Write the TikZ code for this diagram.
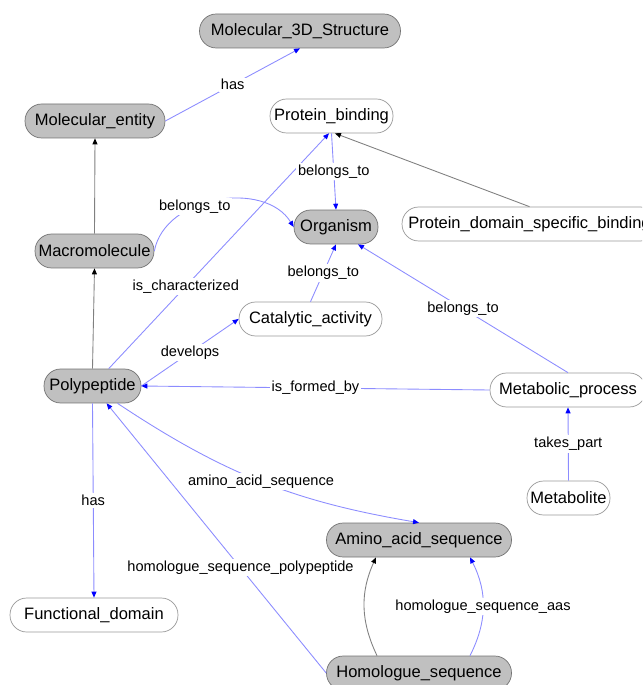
\documentclass[tikz,border=0pt]{standalone}
\usepackage{fontspec}
\setmainfont{Liberation Sans}
\usepackage{tikz}
\usetikzlibrary{positioning,arrows.meta}

\definecolor{nodegray}{RGB}{192,192,192}
\definecolor{edgeblue}{RGB}{140,140,255}

\tikzset{
	concept/.style={draw=black!55, fill=nodegray, rounded corners=9.5pt, minimum height=0.68cm, inner sep=0pt, font=\fontsize{9.4}{11}\selectfont},
	plain/.style={concept, draw=black!40, fill=white},
	lbl/.style={fill=white, inner sep=1pt, font=\fontsize{8.3}{10}\selectfont},
	bluetip/.tip={Triangle[length=3.4pt,width=2.8pt,color=blue]},
	blacktip/.tip={Triangle[length=3.4pt,width=2.8pt,color=black]},
	rel/.style={draw=edgeblue, line width=0.5pt, -bluetip},
	isa/.style={draw=black!50, line width=0.5pt, -blacktip}
}

\begin{document}
\begin{tikzpicture}[x=0.02cm, y=-0.02cm]
	\useasboundingbox (0,0) rectangle (642,685);
	\clip (0,0) rectangle (642,685);

	% classes
	\node[concept, minimum width=4.02cm] (m3d) at (300,31) {Molecular\_3D\_Structure};
	\node[concept, minimum width=2.8cm] (ment) at (95,121) {Molecular\_entity};
	\node[plain, minimum width=2.46cm] (pbind) at (331.5,116) {Protein\_binding};
	\node[concept, minimum width=1.68cm] (org) at (336,227) {Organism};
	\node[plain, minimum width=5.1cm] (pdsb) at (529.5,224) {Protein\_domain\_specific\_binding};
	\node[concept, minimum width=2.38cm] (macro) at (94.5,251) {Macromolecule};
	\node[plain, minimum width=2.86cm] (cat) at (310.5,319) {Catalytic\_activity};
	\node[concept, minimum width=1.94cm] (poly) at (92.5,386) {Polypeptide};
	\node[plain, minimum width=3.12cm] (metp) at (568,390) {Metabolic\_process};
	\node[plain, minimum width=1.66cm] (metab) at (568.5,498) {Metabolite};
	\node[concept, minimum width=3.7cm] (amino) at (419,540) {Amino\_acid\_sequence};
	\node[plain, minimum width=3.36cm] (func) at (94,615) {Functional\_domain};
	\node[concept, minimum width=3.7cm] (homol) at (419,673) {Homologue\_sequence};

	% subclass links
	\draw[isa] (macro.north) -- (ment.south);
	\draw[isa] (poly.north) -- (macro.south);
	\draw[isa] (pdsb.north) -- ([xshift=0.07cm]pbind.south);
	\draw[isa] ([xshift=-0.84cm]homol.north) to[bend left=25] ([xshift=-0.86cm]amino.south);

	% relations
	\draw[rel] (ment.east) -- node[lbl] {has} (m3d.south);
	\draw[rel] (macro.east) .. controls (165,195) and (265,180) .. node[lbl, pos=.37] {belongs\_to} (org.west);
	\draw[rel] (poly) -- node[lbl, pos=.35] {is\_characterized} ([xshift=-0.05cm]pbind.south);
	\draw[rel] (pbind.south) -- node[lbl] {belongs\_to} (org.north);
	\draw[rel] (cat.north) -- node[lbl] {belongs\_to} (org.south);
	\draw[rel] (metp.north) -- node[lbl] {belongs\_to} ([xshift=0.44cm]org.south);
	\draw[rel] (poly.east) -- node[lbl] {develops} (cat.west);
	\draw[rel] (metp.west) -- node[lbl] {is\_formed\_by} (poly.east);
	\draw[rel] (metab.north) -- node[lbl] {takes\_part} (metp.south);
	\draw[rel] (poly) to[bend right=12] node[lbl] {amino\_acid\_sequence} (amino.north);
	\draw[rel] (poly.south) -- node[lbl] {has} (func.north);
	\draw[rel] (homol.west) -- node[lbl, pos=.39] {homologue\_sequence\_polypeptide} (poly);
	\draw[rel] ([xshift=1.02cm]homol.north) to[bend right=27] node[lbl] {homologue\_sequence\_aas} ([xshift=1.02cm]amino.south);

\end{tikzpicture}
\end{document}
